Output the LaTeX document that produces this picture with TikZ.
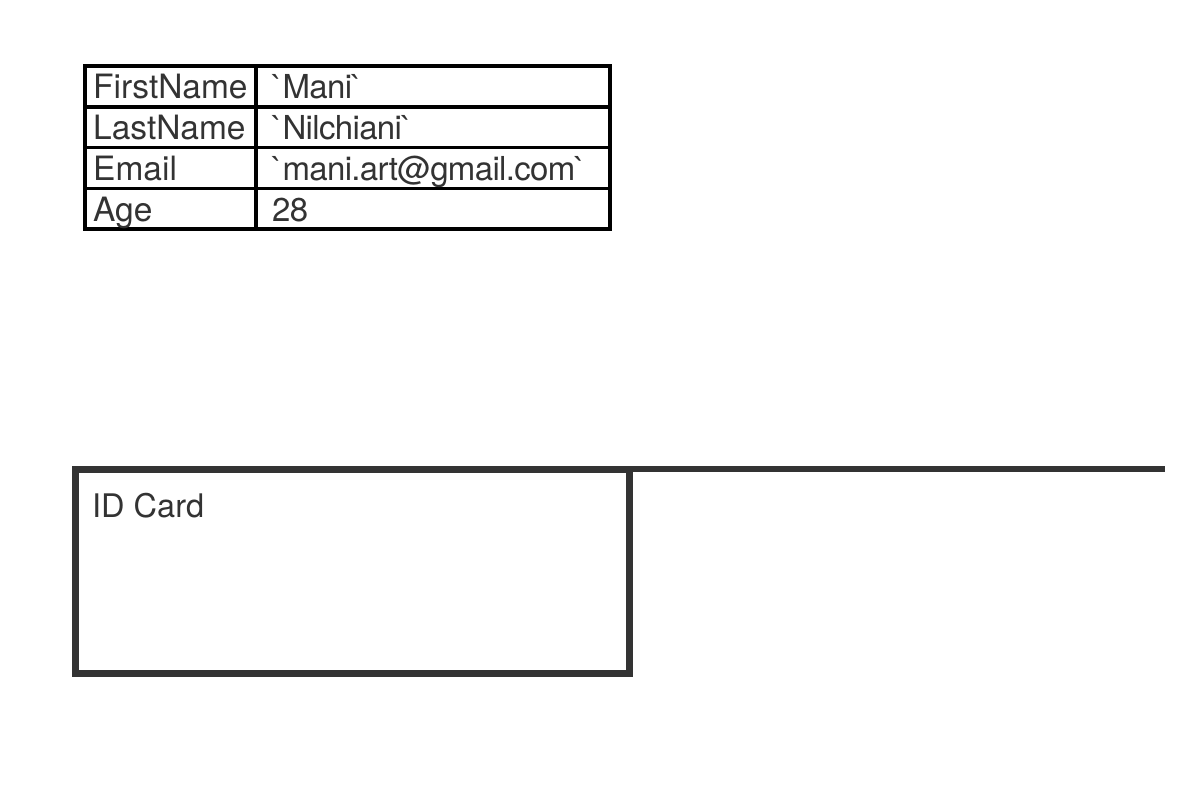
\documentclass[tikz,border=0pt]{standalone}
\usepackage{fontspec}
\setmainfont{TeX Gyre Heros}[Ligatures=TeXOff]
\definecolor{inkgray}{HTML}{333333}
\newcommand{\bq}{\symbol{96}}
\tikzset{
  tablerule/.style={draw=black,line width=3.5pt},
  cardrule/.style={draw=inkgray,line width=7pt},
  celltext/.style={anchor=base west,inner sep=0pt,text=inkgray,font=\fontsize{33.5}{40}\selectfont},
  valtext/.style={celltext,font=\fontsize{33}{40}\selectfont\addfontfeature{LetterSpace=-2}},
}
\begin{document}
\begin{tikzpicture}[x=1pt,y=-1pt,line join=miter]
\useasboundingbox (0,0) rectangle (1200,800);
% record table
\draw[tablerule] (85,66) rectangle (610,229);
\draw[tablerule] (256,66) -- (256,229);
\foreach \i in {1,2,3}
  \draw[tablerule] (85,{66+40.75*\i}) -- (610,{66+40.75*\i});
\foreach \key/\val/\i in {FirstName/\bq Mani\bq/0,LastName/\bq Nilchiani\bq/1,Email/\bq mani.art@gmail.com\bq/2,Age/28/3}{
\node[celltext] (key\i) at (93,{99+40.75*\i}) {\key};
\node[valtext] (val\i) at (272,{99+40.75*\i}) {\val};
}
% card
\node[cardrule,rectangle,inner sep=0pt,outer sep=0pt,minimum width=554pt,minimum height=204pt] (card) at (352,571) {};
\node[celltext,font=\fontsize{32.5}{39}\selectfont] (cardtitle) at (92,517) {ID Card};
\coordinate (lineend) at (1165,469);
\draw[cardrule,line width=6.5pt] (card.north east) -- (lineend);
\end{tikzpicture}
\end{document}
